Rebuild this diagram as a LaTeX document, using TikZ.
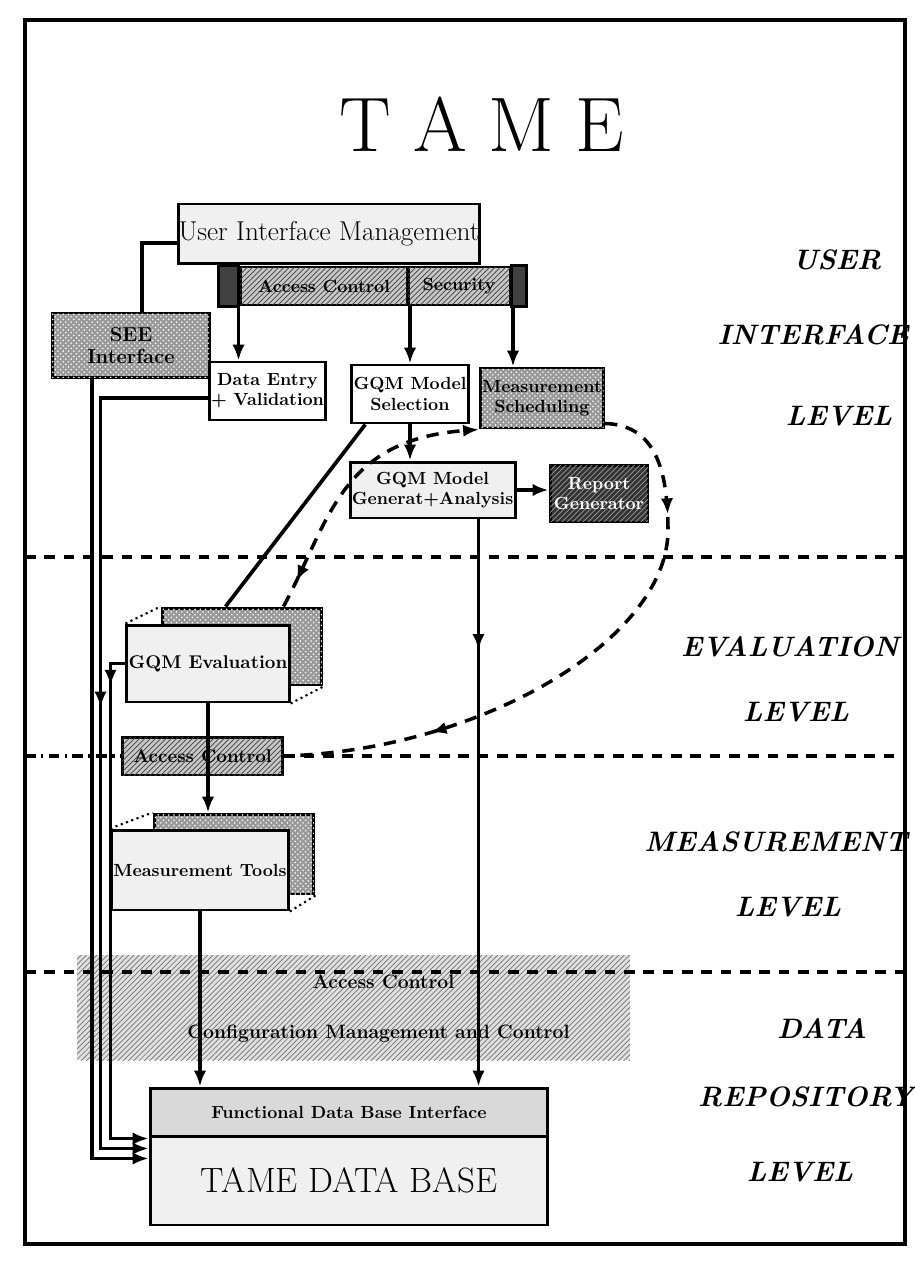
\documentclass[tikz,border=0pt]{standalone}
\usepackage{fontspec}
\usepackage{tikz}
\usetikzlibrary{arrows.meta,calc,patterns,decorations.markings,backgrounds}

\begin{document}
\begin{tikzpicture}[
    x=0.02cm, y=-0.02cm,
    conn/.style={line width=2.1pt},
    arr/.style={conn, -{Latex[length=9pt,width=7pt]}},
    markat/.style={postaction={decorate,decoration={markings,mark=at position #1 with {\arrow{Latex[length=9pt,width=7pt]}}}}},
    markback/.style={postaction={decorate,decoration={markings,mark=at position #1 with {\arrowreversed{Latex[length=9pt,width=7pt]}}}}},
    flow/.style={line width=2pt, dash pattern=on 7pt off 5pt},
    levelline/.style={line width=2pt, dash pattern=on 6pt off 5pt},
    box/.style={draw, line width=1.7pt, rectangle, inner sep=1pt, align=center, font=\fontsize{10}{11.5}\selectfont\bfseries},
    lightbox/.style={box, fill=black!6},
    gridbox/.style={box, fill=black!40, postaction={pattern=crosshatch dots, pattern color=white}},
    hatchbox/.style={box, fill=black!22, postaction={pattern=north east lines, pattern color=black!75}},
    darkbox/.style={box, fill=black!80, text=white, postaction={pattern=north east lines, pattern color=black!40}},
    bandbox/.style={rectangle, inner sep=0pt, fill=black!12, postaction={pattern=north east lines, pattern color=black!55}, font=\fontsize{11}{12.5}\selectfont\bfseries},
    levellabel/.style={font=\fontsize{16}{19}\selectfont\bfseries\itshape}
]
\useasboundingbox (0,0) rectangle (914,1263);
\draw[line width=2pt] (25,20) rectangle (905,1244);
\coordinate (frameL) at (25,0);
\coordinate (frameR) at (905,0);

\node[font=\fontsize{44}{50}\selectfont] (title) at (482,124) {T\hspace{0.28em}A\hspace{0.28em}M\hspace{0.28em}E};

% user interface level
\node[lightbox, minimum width=5.96cm, minimum height=1.2cm, inner sep=0pt, font=\fontsize{15.5}{18}\selectfont] (uim) at (329,234) {User Interface Management};
\node[hatchbox, minimum width=3.36cm, minimum height=0.76cm] (acl) at (324,286) {Access Control};
\node[hatchbox, minimum width=2.04cm, minimum height=0.76cm] (sec) at (459,286) {Security};
\filldraw[line width=1.7pt, fill=black!75] (acl.north west) rectangle ($(acl.south west)+(-20,0)$);
\filldraw[line width=1.7pt, fill=black!75] (sec.north east) rectangle ($(sec.south east)+(15,0)$);
\node[gridbox, minimum width=3.16cm, minimum height=1.3cm, font=\fontsize{11.5}{13}\selectfont\bfseries] (see) at (131,345.5) {SEE\\Interface};
\node[box, fill=white, minimum width=1.98cm, minimum height=1.16cm] (dataentry) at (267.5,391) {Data Entry\\+ Validation};
\node[box, fill=white, minimum width=2cm, minimum height=1.16cm] (gqmsel) at (410,394) {GQM Model\\Selection};
\node[gridbox, minimum width=2cm, minimum height=1.2cm] (sched) at (542,398) {Measurement\\Scheduling};
\node[lightbox, minimum width=2.42cm, minimum height=1.12cm] (gqmgen) at (432.5,490) {GQM Model\\Generat+Analysis};
\node[darkbox, minimum width=1.96cm, minimum height=1.14cm] (report) at (599,493.5) {Report\\Generator};

% evaluation and measurement level
\node[lightbox, minimum width=3.2cm, minimum height=1.54cm, font=\fontsize{10.5}{12}\selectfont\bfseries] (eval) at (208,663.5) {GQM Evaluation};
\node[hatchbox, minimum width=3.22cm, minimum height=0.76cm, font=\fontsize{10.5}{12}\selectfont\bfseries] (acmid) at (202.5,756) {Access Control};
\node[lightbox, minimum width=3.2cm, minimum height=1.6cm] (meas) at (200,870) {Measurement Tools};
\begin{scope}[on background layer]
\node[gridbox, minimum width=3.2cm, minimum height=1.54cm] (evalbk) at ($(eval)+(34,-17)$) {};
\node[gridbox, minimum width=3.2cm, minimum height=1.6cm] (measbk) at ($(meas)+(34,-16)$) {};
\end{scope}
\draw[line width=1.2pt, dotted] (eval.north west) -- (evalbk.north west);
\draw[line width=1.2pt, dotted] (eval.south east) -- (evalbk.south east);
\draw[line width=1.2pt, dotted] (meas.north west) -- (measbk.north west);
\draw[line width=1.2pt, dotted] (meas.south east) -- (measbk.south east);

% data repository level
\node[bandbox, minimum width=11.06cm, minimum height=1.06cm] (acdb) at (353.5,981.5) {\hspace{1.2cm}Access Control};
\node[bandbox, minimum width=11.06cm, minimum height=1.04cm] (cfg) at (353.5,1034) {\hspace{1cm}Configuration Management and Control};
\node[box, fill=black!15, minimum width=7.96cm, minimum height=0.96cm] (dbif) at (349,1112) {Functional Data Base Interface};
\node[lightbox, minimum width=7.96cm, minimum height=1.78cm, font=\fontsize{20}{23}\selectfont] (dbmain) at (349,1180.5) {TAME DATA BASE};

\node[levellabel] (lvuser) at (837,260) {USER};
\node[levellabel] (lvinter) at (813,335) {INTERFACE};
\node[levellabel] (lvlevelA) at (839,416) {LEVEL};
\node[levellabel] (lveval) at (790,647) {EVALUATION};
\node[levellabel] (lvlevelB) at (796,712) {LEVEL};
\node[levellabel] (lvmeas) at (776,842) {MEASUREMENT};
\node[levellabel] (lvlevelC) at (788,907) {LEVEL};
\node[levellabel] (lvdata) at (822,1028) {DATA};
\node[levellabel] (lvrepo) at (806,1097) {REPOSITORY};
\node[levellabel] (lvlevelD) at (800,1172) {LEVEL};

\draw[levelline] (frameL |- 0,557) -- (frameR |- 0,557);
\draw[levelline, dash pattern=on 6pt off 3pt on 1.5pt off 3pt] (acmid.west -| frameL) -- (acmid.west);
\draw[levelline] (acmid.east) -- (acmid.east -| frameR);
\draw[levelline] (frameL |- 0,972) -- (frameR |- 0,972);

\draw[conn] ($(uim.west)+(0,9)$) -| ($(see.north)+(11,0)$);
\coordinate (deTop) at ($(dataentry.north)+(-29,0)$);
\coordinate (schTop) at ($(sched.north)+(-29,0)$);
\draw[arr] (deTop |- acl.south) -- (deTop);
\draw[arr] (gqmsel.north |- sec.south) -- (gqmsel.north);
\draw[arr] (schTop |- sec.south) -- (schTop);
\draw[arr] (gqmsel.south) -- (gqmsel.south |- gqmgen.north);
\draw[arr] (gqmgen.east) -- (gqmgen.east -| report.west);
\draw[conn] ($(gqmsel.south west)+(15,0)$) -- ($(evalbk.north west)+(65,0)$);
\coordinate (genOut) at ($(gqmgen.south)+(46,0)$);
\draw[arr, markat=0.23] (genOut) -- (genOut |- dbif.north);
\draw[arr] (eval.south) -- (eval.south |- measbk.north);
\draw[arr] (meas.south) -- (meas.south |- dbif.north);

\coordinate (inSee) at ($(dbmain.west)+(0,-22)$);
\coordinate (inDE) at ($(dbmain.west)+(0,-32)$);
\coordinate (inEv) at ($(dbmain.west)+(0,-42)$);
\draw[arr] ($(see.south)+(-39,0)$) |- (inSee);
\draw[arr, markat=0.46] ($(dataentry.west)+(0,7)$) -| ($(inDE)+(-48,0)$) -- (inDE);
\draw[arr, markat=0.07] (eval.west) -| ($(inEv)+(-38,0)$) -- (inEv);

\coordinate (evTop) at ($(evalbk.north east)+(-40,0)$);
\coordinate (loopR) at (668,530);
\draw[flow, markback=0.1, -{Latex[length=9pt,width=7pt]}] (evTop) .. controls (330,520) and (340,440) .. (sched.south west);
\draw[flow, markat=0.2, markat=0.76] ($(sched.south east)+(0,-6)$) .. controls (650,425) and (668,460) .. (loopR) .. controls (668,640) and (480,750) .. (acmid.east);

\end{tikzpicture}
\end{document}
